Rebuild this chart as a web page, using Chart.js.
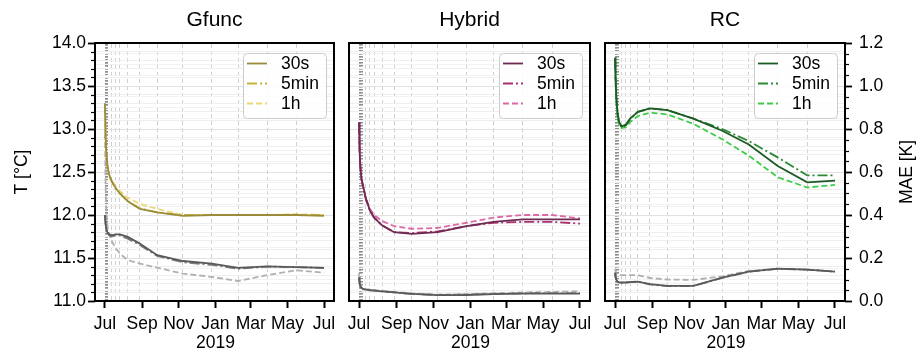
<!DOCTYPE html>
<html>
<head>
<meta charset="utf-8">
<script src="https://cdn.jsdelivr.net/npm/chart.js@4.4.0/dist/chart.umd.min.js"></script>
<style>
  html, body { margin: 0; padding: 0; background: #fff; }
  #wrap { position: relative; width: 917px; height: 356px; }
  canvas { position: absolute; left: 0; top: 0; }
</style>
</head>
<body>
<div id="wrap">
  <canvas id="c0" width="917" height="356"></canvas>
  <canvas id="c1" width="917" height="356"></canvas>
  <canvas id="c2" width="917" height="356"></canvas>
</div>
<script>
// x values are days since 1 Jul 2018
const days = [0, 1, 2, 4, 7, 11, 18, 25, 38, 58, 87, 130, 178, 222, 270, 319, 365];
const runLabels = ['30s', '5min', '1h'];
const panelTitles = ['Gfunc', 'Hybrid', 'RC'];

const monthTicks = [0, 62, 123, 184, 243, 304, 365];
const monthLabels = ['Jul', 'Sep', 'Nov', ['Jan', '2019'], 'Mar', 'May', 'Jul'];
const evalDaysDotted = [0.5, 1, 2, 3, 4, 5];
const evalDaysDashed = [11, 18, 25, 38, 58, 87, 130, 178, 222, 270, 319];

const tempMajor = [11.0, 11.5, 12.0, 12.5, 13.0, 13.5, 14.0];
const tempMajorLabels = ['11.0', '11.5', '12.0', '12.5', '13.0', '13.5', '14.0'];
const maeMajor = [0, 0.2, 0.4, 0.6, 0.8, 1.0, 1.2];
const maeMajorLabels = ['0.0', '0.2', '0.4', '0.6', '0.8', '1.0', '1.2'];

// Gfunc
const gfuncT30s  = [13.30, 12.95, 12.75, 12.58, 12.47, 12.40, 12.31, 12.25, 12.16, 12.07, 12.03, 11.99, 12.00, 12.00, 12.00, 12.00, 11.99];
const gfuncT5min = [13.28, 12.93, 12.74, 12.57, 12.46, 12.39, 12.30, 12.25, 12.16, 12.08, 12.03, 12.00, 12.00, 12.00, 12.00, 12.00, 12.00];
const gfuncT1h   = [13.20, 12.90, 12.72, 12.57, 12.47, 12.40, 12.33, 12.28, 12.20, 12.13, 12.07, 12.00, 12.00, 12.00, 12.00, 12.01, 12.00];
const gfuncE30s  = [0.40, 0.36, 0.34, 0.32, 0.31, 0.305, 0.31, 0.31, 0.298, 0.267, 0.213, 0.186, 0.174, 0.154, 0.161, 0.158, 0.154];
const gfuncE5min = [0.40, 0.36, 0.34, 0.32, 0.305, 0.30, 0.305, 0.305, 0.29, 0.26, 0.21, 0.18, 0.168, 0.15, 0.16, 0.158, 0.154];
const gfuncE1h   = [0.78, 0.55, 0.42, 0.35, 0.31, 0.28, 0.245, 0.22, 0.19, 0.174, 0.155, 0.127, 0.112, 0.093, 0.12, 0.143, 0.132];

// Hybrid
const hybridT30s  = [13.08, 12.75, 12.58, 12.42, 12.33, 12.20, 12.05, 11.97, 11.88, 11.80, 11.78, 11.80, 11.87, 11.92, 11.95, 11.95, 11.95];
const hybridT5min = [13.06, 12.74, 12.57, 12.41, 12.32, 12.19, 12.05, 11.97, 11.88, 11.80, 11.79, 11.81, 11.87, 11.91, 11.92, 11.92, 11.90];
const hybridT1h   = [13.00, 12.72, 12.56, 12.41, 12.32, 12.20, 12.07, 12.00, 11.93, 11.87, 11.84, 11.85, 11.91, 11.97, 12.00, 12.00, 11.96];
const hybridE30s  = [0.11, 0.08, 0.07, 0.06, 0.055, 0.053, 0.05, 0.048, 0.045, 0.04, 0.033, 0.027, 0.028, 0.032, 0.034, 0.034, 0.034];
const hybridE5min = [0.11, 0.08, 0.07, 0.06, 0.056, 0.054, 0.051, 0.049, 0.045, 0.04, 0.033, 0.028, 0.03, 0.033, 0.036, 0.037, 0.037];
const hybridE1h   = [0.13, 0.09, 0.075, 0.065, 0.06, 0.056, 0.053, 0.05, 0.047, 0.042, 0.036, 0.03, 0.032, 0.036, 0.04, 0.042, 0.045];

// RC
const rcT30s  = [13.83, 13.60, 13.40, 13.20, 13.08, 13.03, 13.05, 13.12, 13.20, 13.24, 13.22, 13.12, 12.98, 12.82, 12.57, 12.38, 12.40];
const rcT5min = [13.82, 13.58, 13.38, 13.18, 13.06, 13.02, 13.04, 13.11, 13.20, 13.24, 13.22, 13.12, 13.00, 12.86, 12.67, 12.46, 12.46];
const rcT1h   = [13.74, 13.52, 13.34, 13.15, 13.04, 13.01, 13.02, 13.08, 13.15, 13.19, 13.17, 13.06, 12.88, 12.69, 12.44, 12.32, 12.35];
const rcE30s  = [0.132, 0.11, 0.10, 0.09, 0.086, 0.086, 0.086, 0.088, 0.09, 0.078, 0.07, 0.07, 0.109, 0.137, 0.151, 0.146, 0.137];
const rcE5min = [0.13, 0.11, 0.10, 0.09, 0.085, 0.085, 0.086, 0.088, 0.09, 0.077, 0.069, 0.07, 0.108, 0.136, 0.15, 0.146, 0.137];
const rcE1h   = [0.15, 0.14, 0.13, 0.125, 0.12, 0.12, 0.12, 0.12, 0.12, 0.107, 0.10, 0.098, 0.115, 0.14, 0.15, 0.146, 0.137];

const grayColors = ['#595959', '#7a7a7a', '#b0b0b0'];
const dashes = [[], [10, 3, 2, 3], [6, 3]];
const FONT = "'Liberation Sans', Arial, sans-serif";

Chart.defaults.font.family = FONT;
Chart.defaults.color = '#000';

function near(v, list) { return list.some(m => Math.abs(m - v) < 1e-6); }
function steps(lo, hi, st) {
  const out = [];
  for (let v = lo; v <= hi + 1e-9; v += st) out.push(Math.round(v * 1000) / 1000);
  return out;
}

// tick marks with major/minor lengths, in-panel legend, right axis label
const decor = {
  id: 'decor',
  afterDraw(chart, args, opts) {
    const ctx = chart.ctx;
    const ca = chart.chartArea;
    ctx.save();
    ctx.strokeStyle = '#000';
    if (opts.leftTicks) {
      const s = chart.scales.y;
      steps(11, 14, 0.1).forEach(v => {
        const maj = near(v, tempMajor);
        const py = Math.round(s.getPixelForValue(v)) + 0.5;
        ctx.lineWidth = maj ? 1.8 : 1.2;
        ctx.beginPath();
        ctx.moveTo(ca.left, py);
        ctx.lineTo(ca.left - (maj ? 7 : 4), py);
        ctx.stroke();
      });
    }
    if (opts.rightTicks) {
      const s = chart.scales.y2;
      steps(0, 1.2, 0.05).forEach(v => {
        const maj = near(v, maeMajor);
        const py = Math.round(s.getPixelForValue(v)) + 0.5;
        ctx.lineWidth = maj ? 1.8 : 1.2;
        ctx.beginPath();
        ctx.moveTo(ca.right, py);
        ctx.lineTo(ca.right + (maj ? 7 : 4), py);
        ctx.stroke();
      });
      ctx.save();
      ctx.translate(907, (ca.top + ca.bottom) / 2);
      ctx.rotate(-Math.PI / 2);
      ctx.font = '17.5px ' + FONT;
      ctx.fillStyle = '#000';
      ctx.textAlign = 'center';
      ctx.textBaseline = 'middle';
      ctx.fillText('MAE [K]', 0, 0);
      ctx.restore();
    }

    // legend box
    const w = 83, h = 65;
    const bx = ca.right - 8 - w, by = ca.top + 10;
    ctx.fillStyle = 'rgba(255,255,255,0.85)';
    ctx.strokeStyle = '#cccccc';
    ctx.lineWidth = 1;
    ctx.beginPath();
    ctx.roundRect(bx + 0.5, by + 0.5, w, h, 4);
    ctx.fill();
    ctx.stroke();
    ctx.font = '17.5px ' + FONT;
    ctx.textBaseline = 'middle';
    ctx.textAlign = 'left';
    for (let k = 0; k < 3; k++) {
      const d = chart.data.datasets[k];
      const ry = by + 10.5 + k * 20;
      ctx.strokeStyle = d.borderColor;
      ctx.lineWidth = d.borderWidth;
      ctx.setLineDash(d.borderDash);
      ctx.beginPath();
      ctx.moveTo(bx + 4, ry);
      ctx.lineTo(bx + 24, ry);
      ctx.stroke();
      ctx.setLineDash([]);
      ctx.fillStyle = '#000';
      ctx.fillText(d.label, bx + 38, ry + 1);
    }
    ctx.restore();
  }
};

const panels = [
  { id: 'c0', left: 95, right: 334, colors: ['#9b8c3c', '#c8b43a', '#ecd877'],
    T: [gfuncT30s, gfuncT5min, gfuncT1h], E: [gfuncE30s, gfuncE5min, gfuncE1h], first: true, last: false },
  { id: 'c1', left: 349, right: 590, colors: ['#6e2a52', '#a8306e', '#dc6aa6'],
    T: [hybridT30s, hybridT5min, hybridT1h], E: [hybridE30s, hybridE5min, hybridE1h], first: false, last: false },
  { id: 'c2', left: 605, right: 845, colors: ['#1d5a24', '#2a8a36', '#3fcc4a'],
    T: [rcT30s, rcT5min, rcT1h], E: [rcE30s, rcE5min, rcE1h], first: false, last: true }
];

panels.forEach((p, n) => {
  const datasets = [];
  p.T.forEach((arr, k) => datasets.push({
    label: runLabels[k], yAxisID: 'y', order: 1,
    data: days.map((d, i) => ({ x: d, y: arr[i] })),
    borderColor: p.colors[k], borderDash: dashes[k], borderWidth: 1.8,
    pointRadius: 0, fill: false, tension: 0
  }));
  p.E.forEach((arr, k) => datasets.push({
    label: 'MAE ' + runLabels[k], yAxisID: 'y2', order: 2,
    data: days.map((d, i) => ({ x: d, y: arr[i] })),
    borderColor: grayColors[k], borderDash: dashes[k], borderWidth: 1.8,
    pointRadius: 0, fill: false, tension: 0
  }));

  new Chart(document.getElementById(p.id), {
    type: 'line',
    data: { datasets },
    plugins: [decor],
    options: {
      responsive: false,
      animation: false,
      events: [],
      layout: { padding: 0 },
      plugins: {
        legend: { display: false },
        tooltip: { enabled: false },
        title: {
          display: true, text: panelTitles[n], fullSize: false,
          font: { size: 21, weight: 'normal', lineHeight: 1.2 }, color: '#000',
          padding: { top: 7.4, bottom: 10.4 }
        },
        decor: { leftTicks: p.first, rightTicks: p.last }
      },
      scales: {
        x: {
          type: 'linear', position: 'bottom', min: -16.6, max: 381.6,
          afterBuildTicks: s => { s.ticks = monthTicks.map(v => ({ value: v })); },
          afterFit: s => { s.height = 55; },
          ticks: {
            autoSkip: false, maxRotation: 0, padding: 6,
            font: { size: 17.5, lineHeight: 1.12 },
            callback: (v, i) => monthLabels[i]
          },
          grid: { drawOnChartArea: false, drawTicks: true, tickLength: 7, tickWidth: 2, tickColor: '#000' },
          border: { display: true, color: '#000', width: 2 }
        },
        x2: {
          type: 'linear', position: 'top', min: -16.6, max: 381.6,
          afterBuildTicks: s => {
            s.ticks = evalDaysDotted.concat(evalDaysDashed).map(v => ({ value: v }));
          },
          afterFit: s => { s.height = 0; },
          ticks: { display: false },
          grid: {
            drawTicks: false, lineWidth: 1,
            color: c => (c.tick && c.tick.value < 8) ? '#8e8e8e' : '#cfcfcf'
          },
          border: {
            display: true, color: '#000', width: 2,
            dash: c => (c.tick && c.tick.value < 8) ? [1.5, 1.5] : [4, 3]
          }
        },
        y: {
          type: 'linear', position: 'left', min: 11, max: 14,
          afterBuildTicks: s => { s.ticks = steps(11, 14, 0.1).map(v => ({ value: v })); },
          afterFit: s => { s.width = p.left; },
          ticks: {
            display: p.first, autoSkip: false, padding: 9, font: { size: 17.5 },
            callback: v => {
              const j = tempMajor.findIndex(m => Math.abs(m - v) < 1e-6);
              return j >= 0 ? tempMajorLabels[j] : '';
            }
          },
          title: { display: p.first, text: 'T [°C]', font: { size: 17.5, lineHeight: 1.2 }, padding: { top: 12 } },
          grid: {
            drawTicks: false, lineWidth: 1,
            color: c => near(c.tick.value, tempMajor) ? '#dddddd' : '#efefef'
          },
          border: { display: true, color: '#000', width: 2 }
        },
        y2: {
          type: 'linear', position: 'right', min: 0, max: 1.2,
          afterBuildTicks: s => { s.ticks = steps(0, 1.2, 0.05).map(v => ({ value: v })); },
          afterFit: s => { s.width = 917 - p.right; },
          ticks: {
            display: p.last, autoSkip: false, padding: 14, font: { size: 17.5 },
            callback: v => {
              const j = maeMajor.findIndex(m => Math.abs(m - v) < 1e-6);
              return j >= 0 ? maeMajorLabels[j] : '';
            }
          },
          grid: {
            drawTicks: false, lineWidth: 1,
            color: c => near(c.tick.value, maeMajor) ? '#e2e2e2' : '#f2f2f2'
          },
          border: { display: true, color: '#000', width: 2 }
        }
      }
    }
  });
});
</script>
</body>
</html>
